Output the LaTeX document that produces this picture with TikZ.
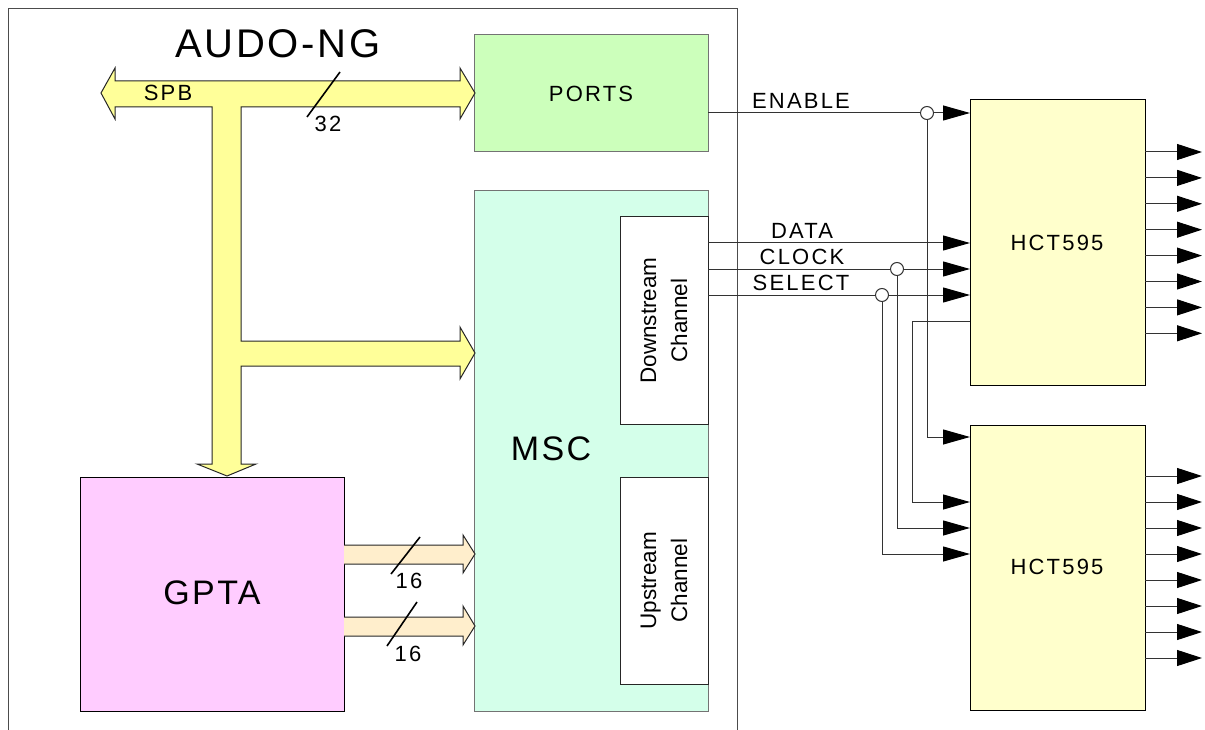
\documentclass[tikz,border=0pt]{standalone}
\usepackage{fontspec}
\setmainfont{Liberation Sans}
\newfontfamily\lsfont[LetterSpace=10]{Liberation Sans}
\newfontfamily\lsbig[LetterSpace=7]{Liberation Sans}
\usetikzlibrary{arrows.meta,calc}
\definecolor{spbY}{HTML}{FFFF99}
\definecolor{portG}{HTML}{CCFFBB}
\definecolor{mscG}{HTML}{D4FFEA}
\definecolor{gptaM}{HTML}{FFCCFF}
\definecolor{busP}{HTML}{FFEECC}
\definecolor{hctY}{HTML}{FFFFCC}
\begin{document}
\begin{tikzpicture}[x=1pt,y=-1pt,
  box/.style={draw, line width=1pt, anchor=north west, inner sep=0pt, outer sep=0pt},
  lbl/.style={font={\lsfont\fontsize{22pt}{26pt}\selectfont}, inner sep=0pt},
  biglbl/.style={font={\lsbig\fontsize{34pt}{40pt}\selectfont}, inner sep=0pt},
  chlbl/.style={font={\fontsize{22.5pt}{31pt}\selectfont}, inner sep=0pt, align=center, rotate=90},
  sig/.style={draw=black!80, line width=1pt},
  inarr/.style={sig, -{Triangle[length=27pt,width=15pt,black]}},
  outarr/.style={sig, -{Triangle[length=25pt,width=16pt,black]}},
  tap/.style={circle, draw=black!80, fill=white, line width=1pt, minimum size=13pt, inner sep=0pt},
  bus/.style={draw=black!85, line width=1pt, line join=miter},
  slash/.style={draw=black, line width=1.6pt}]
\useasboundingbox (0,0) rectangle (1205,730);
% outer chip frame
\draw[draw=black!70, line width=1pt] (8,730) |- (737,9) -- (737,730);
\node[font={\lsbig\fontsize{40pt}{46pt}\selectfont}, inner sep=0pt] (audo) at (278,44) {AUDO-NG};
% boxes
\node[box, draw=black!55, fill=portG, minimum width=234pt, minimum height=117pt] (ports) at (474,35) {};
\node[lbl] at (ports.center) {PORTS};
\node[box, draw=black!55, fill=mscG, minimum width=234pt, minimum height=520pt] (msc) at (474,191) {};
\node[biglbl] at (551,449) {MSC};
\node[box, draw=black!85, fill=white, minimum width=88pt, minimum height=207pt] (ds) at (620,217) {};
\node[chlbl] at (ds.center) {Downstream\\Channel};
\node[box, draw=black!85, fill=white, minimum width=88pt, minimum height=207pt] (us) at (620,477) {};
\node[chlbl] at (us.center) {Upstream\\Channel};
\node[box, fill=gptaM, minimum width=264pt, minimum height=234pt] (gpta) at (80,477) {};
\node[biglbl] at (212,593) {GPTA};
\node[box, fill=hctY, minimum width=175pt, minimum height=285pt] (h1) at (970,100) {};
\node[lbl] at (1057,243) {HCT595};
\node[box, fill=hctY, minimum width=175pt, minimum height=285pt] (h2) at (970,425) {};
\node[lbl] at (1057,567) {HCT595};
% SPB bus
\draw[bus, fill=spbY] (101,93) -- (115,68) -- (115,81) -- (460,81) -- (460,68) -- (475,93)
  -- (460,119) -- (460,107) -- (241,107) -- (241,341) -- (460,341) -- (460,327) -- (475,353)
  -- (460,379) -- (460,366) -- (241,366) -- (241,464) -- (256,464) -- (227,476) -- (197,464)
  -- (212,464) -- (212,107) -- (115,107) -- (115,119) -- cycle;
\node[lbl] at (168,93) {SPB};
\draw[slash] (307,117) -- (340,72);
\node[lbl] at (328,124) {32};
% GPTA buses
\draw[bus, fill=busP] (344,545) -- (463,545) -- (463,535) -- (475,554) -- (463,573) -- (463,564) -- (344,564);
\draw[bus, fill=busP] (344,617) -- (463,617) -- (463,606) -- (475,626) -- (463,645) -- (463,636) -- (344,636);
\draw[slash] (391,574) -- (420,537);
\node[lbl] at (409,581) {16};
\draw[slash] (387,646) -- (417,602);
\node[lbl] at (408,654) {16};
% signal coordinates
\coordinate (inEN) at (970,113);
\coordinate (inDA) at (970,243);
\coordinate (inCK) at (970,269);
\coordinate (inSE) at (970,295);
\coordinate (q7) at (970,321);
\coordinate (in2EN) at (970,437);
\coordinate (in2DA) at (970,502);
\coordinate (in2CK) at (970,528);
\coordinate (in2SE) at (970,554);
\coordinate (cas) at (912,502);
% signals
\draw[inarr] (ports.east |- inEN) -- (inEN);
\draw[inarr] (ds.east |- inDA) -- (inDA);
\draw[inarr] (ds.east |- inCK) -- (inCK);
\draw[inarr] (ds.east |- inSE) -- (inSE);
\node[lbl] at (801,101) {ENABLE};
\node[lbl] at (802,231) {DATA};
\node[lbl] at (802,257) {CLOCK};
\node[lbl] at (801,283) {SELECT};
\node[tap] (tEN) at (927,113) {};
\node[tap] (tCK) at (897,269) {};
\node[tap] (tSE) at (882,295) {};
\draw[inarr] (tEN.south) |- (in2EN);
\draw[inarr] (tCK.south) |- (in2CK);
\draw[inarr] (tSE.south) |- (in2SE);
\draw[inarr] (q7) -| (cas) -- (in2DA);
% outputs
\foreach \i in {0,...,7} {
  \draw[outarr] ($(h1.north east)+(0,{52+25.9*\i})$) -- ++(57,0);
  \draw[outarr] ($(h2.north east)+(0,{51+26*\i})$) -- ++(57,0);
}
\end{tikzpicture}
\end{document}
